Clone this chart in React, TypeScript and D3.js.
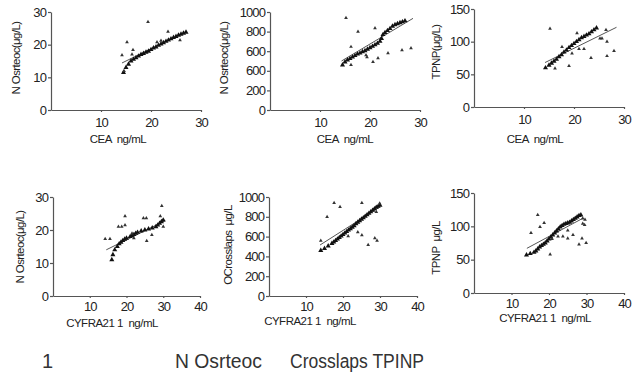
import React, { useEffect, useRef } from 'react';
import * as d3 from 'd3';

// tick values / labels
const xTicks30 = [10, 20, 30];
const xTicks40 = [10, 20, 30, 40];
const yTicks30 = [0, 10, 20, 30];
const yTicks1000 = [0, 200, 400, 600, 800, 1000];
const yTickLabels1000 = ['0', '200', '600', '600', '800', '1000'];
const yTicks150 = [0, 50, 100, 150];

// panel 1: CEA vs N Osrteoc
const ceaOstTrend = [
  [14.5, 11.5], [15, 13], [15.5, 14], [16, 15], [16.5, 15.5], [17, 16], [17.5, 16.5], [18, 17],
  [18.5, 17.3], [19, 17.7], [19.5, 18], [20, 18.5], [20.5, 19], [21, 19.3], [21.5, 19.8], [22, 20.2],
  [22.5, 20.6], [23, 21], [23.5, 21.4], [24, 21.8], [24.5, 22.2], [25, 22.5], [25.5, 22.9], [26, 23.2],
  [26.5, 23.5], [27, 23.8],
];
const ceaOstScatter = [
  [14.2, 16.8], [15.2, 20.8], [16.4, 18.4], [16.2, 17], [19.4, 27], [21.2, 20.8], [22, 21.2],
  [23.4, 24], [25.8, 21.4], [14.6, 12],
];
const ceaOstFit = [[14.2, 14.4], [26.5, 23.6]];

// panel 2: CEA vs N Osrteoc (scale 1000)
const ceaOst2Trend = [
  [14.5, 460], [15, 490], [15.5, 510], [16, 525], [16.5, 540], [17, 555], [17.5, 570], [18, 580],
  [18.5, 595], [19, 605], [19.5, 620], [20, 635], [20.5, 650], [21, 665], [21.5, 680], [22, 700],
  [22.3, 730], [22.6, 770], [23, 790], [23.5, 810], [24, 830], [24.5, 855], [25, 870], [25.5, 880],
  [26, 890], [26.5, 900], [27, 910],
];
const ceaOst2Scatter = [
  [15.2, 940], [17.6, 800], [21, 835], [16.2, 645], [16.2, 460], [19.2, 560], [19.4, 540],
  [20.6, 490], [21.6, 530], [23.6, 580], [26.4, 610], [28.2, 630],
];
const ceaOst2Fit = [[14.3, 500], [28.6, 935]];

// panel 3: CEA vs TPNP
const ceaTpTrend = [
  [14.3, 60], [15, 64], [15.5, 67], [16, 70], [16.5, 73], [17, 77], [17.5, 80], [18, 84], [18.5, 87],
  [19, 91], [19.5, 94], [20, 97], [20.5, 100], [21, 103], [21.5, 106], [22, 108], [22.5, 110],
  [23, 112], [23.5, 115], [24, 118], [24.5, 121],
];
const ceaTpScatter = [
  [15.2, 120], [20.6, 113], [17.6, 92], [22, 89], [19.6, 82], [21, 89], [16.2, 59], [19, 63],
  [23.4, 75], [26.6, 78], [28, 86], [26.6, 100], [26.4, 118], [25.6, 105], [25.2, 105],
];
const ceaTpFit = [[14.2, 68], [28.5, 122]];

// panel 4: CYFRA21 1 vs N Osrteoc
const cyOstTrend = [
  [16, 11], [16.3, 12.5], [16.8, 14], [17.5, 15], [18, 15.8], [18.5, 16.3], [19, 16.8], [19.5, 17.2],
  [20, 17.5], [21, 18], [21.5, 18.3], [22, 18.6], [22.5, 19], [23, 19.3], [24, 19.7], [25, 20],
  [26, 20.3], [27, 20.6], [28, 21], [28.5, 21.5], [29, 22], [29.5, 22.5], [30, 23],
];
const cyOstScatter = [
  [14.2, 17.3], [15.5, 17.3], [17.8, 21], [18.7, 21], [19.6, 24.2], [19.6, 21.5], [24.6, 23.6],
  [25.4, 23.6], [25.5, 16.7], [26.9, 18.5], [29.6, 27.3], [29.2, 24.2], [30, 21], [21.5, 19],
  [22, 17.5],
];
const cyOstFit = [[14.5, 14], [30.5, 22.8]];

// panel 5: CYFRA21 1 vs OCrosslaps
const cyCrossTrend = [
  [14, 460], [15, 480], [16, 505], [17, 530], [17.5, 545], [18, 560], [18.5, 575], [19, 590],
  [19.5, 605], [20, 620], [20.5, 635], [21, 650], [21.5, 665], [22, 680], [22.5, 695], [23, 710],
  [23.5, 730], [24, 745], [24.5, 760], [25, 775], [25.5, 790], [26, 805], [26.5, 820], [27, 835],
  [27.5, 850], [28, 865], [28.5, 880], [29, 895], [29.5, 905], [30, 915],
];
const cyCrossScatter = [
  [14, 560], [15.7, 800], [17.6, 940], [19.2, 900], [25.1, 940], [21.4, 605], [24, 645],
  [25.1, 615], [26.8, 515], [28.6, 585], [29.2, 560], [29, 850], [29.9, 935],
];
const cyCrossFit = [[13.8, 515], [30, 900]];

// panel 6: CYFRA21 1 vs TPNP
const cyTpTrend = [
  [14, 57], [15, 59], [16, 61], [16.5, 63], [17, 66], [17.5, 69], [18, 71], [18.5, 73], [19, 75],
  [19.5, 78], [20, 81], [20.5, 84], [21, 87], [21.5, 90], [22, 93], [22.5, 96], [23, 99],
  [23.5, 101], [24, 103], [24.5, 104], [25, 105], [25.5, 106], [26, 108], [26.5, 110], [27, 112],
  [27.5, 114], [28, 116], [28.5, 117],
];
const cyTpScatter = [
  [17, 117], [15.2, 90], [17.6, 99], [18.7, 105], [20.3, 58], [20.8, 81], [22.4, 85], [23.7, 85],
  [25, 82], [25, 94], [26.4, 87], [28, 73], [28.8, 82], [29.9, 75], [29.5, 102], [29.6, 110],
  [29, 112], [29, 104],
];
const cyTpFit = [[14.1, 67], [29, 112]];

const FONT = '"Liberation Sans", Arial, sans-serif';

const panels = [
  {
    x0: 51, x1: 201, top: 12, bottom: 110, xMax: 30, yMax: 30,
    xTicks: xTicks30, yTicks: yTicks30, yLabels: null,
    xLabel: 'CEA  ng/mL', xlx: 118, xly: 143, yLabel: 'N Osrteoc(μg/L)', ylx: 20, yly: 58,
    trend: ceaOstTrend, scatter: ceaOstScatter, fit: ceaOstFit,
  },
  {
    x0: 270, x1: 420, top: 12, bottom: 110, xMax: 30, yMax: 1000,
    xTicks: xTicks30, yTicks: yTicks1000, yLabels: yTickLabels1000,
    xLabel: 'CEA  ng/mL', xlx: 345, xly: 143, yLabel: 'N Osrteoc(μg/L)', ylx: 228, yly: 58,
    trend: ceaOst2Trend, scatter: ceaOst2Scatter, fit: ceaOst2Fit,
  },
  {
    x0: 474, x1: 624, top: 9, bottom: 107, xMax: 30, yMax: 150,
    xTicks: xTicks30, yTicks: yTicks150, yLabels: null,
    xLabel: 'CEA  ng/mL', xlx: 535, xly: 143, yLabel: 'TPNP(μg/L)', ylx: 440, yly: 52,
    trend: ceaTpTrend, scatter: ceaTpScatter, fit: ceaTpFit,
  },
  {
    x0: 53, x1: 200, top: 197, bottom: 296, xMax: 40, yMax: 30,
    xTicks: xTicks40, yTicks: yTicks30, yLabels: null,
    xLabel: 'CYFRA21 1  ng/mL', xlx: 112, xly: 327, yLabel: 'N Osrteoc(μg/L)', ylx: 24, yly: 247,
    trend: cyOstTrend, scatter: cyOstScatter, fit: cyOstFit,
  },
  {
    x0: 269, x1: 417, top: 197, bottom: 296, xMax: 40, yMax: 1000,
    xTicks: xTicks40, yTicks: yTicks1000, yLabels: null,
    xLabel: 'CYFRA21 1  ng/mL', xlx: 310, xly: 325, yLabel: 'OCrosslaps  μg/L', ylx: 232, yly: 245,
    trend: cyCrossTrend, scatter: cyCrossScatter, fit: cyCrossFit,
  },
  {
    x0: 474, x1: 624, top: 193, bottom: 293, xMax: 40, yMax: 150,
    xTicks: xTicks40, yTicks: yTicks150, yLabels: null,
    xLabel: 'CYFRA21 1  ng/mL', xlx: 545, xly: 322, yLabel: 'TPNP  μg/L', ylx: 440, yly: 248,
    trend: cyTpTrend, scatter: cyTpScatter, fit: cyTpFit,
  },
];

const App = () => {
  const svgRef = useRef<SVGSVGElement>(null);

  useEffect(() => {
    const svg = d3.select(svgRef.current);
    svg.selectAll('*').remove();

    panels.forEach(p => {
      const x = d3.scaleLinear().domain([0, p.xMax]).range([p.x0, p.x1]);
      const y = d3.scaleLinear().domain([0, p.yMax]).range([p.bottom, p.top]);
      const g = svg.append('g');

      // axes
      const yAxis = d3.axisLeft(y)
        .tickValues(p.yTicks)
        .tickSize(3)
        .tickSizeOuter(0)
        .tickPadding(2)
        .tickFormat((d, i) => (p.yLabels ? p.yLabels[i] : String(d)));
      const xAxis = d3.axisBottom(x)
        .tickValues(p.xTicks)
        .tickSize(2)
        .tickSizeOuter(0)
        .tickPadding(p.top < 100 ? 6 : 4);

      const ya = g.append('g').attr('transform', `translate(${p.x0},0)`).call(yAxis);
      const xa = g.append('g').attr('transform', `translate(0,${p.bottom})`).call(xAxis);
      [ya, xa].forEach(a => {
        a.selectAll('path, line').attr('stroke', '#555').attr('stroke-width', 1.2);
        a.selectAll('text')
          .attr('fill', '#222')
          .style('font-family', FONT)
          .style('font-size', '13px')
          .style('letter-spacing', '-0.9px');
      });

      // fitted line
      g.append('path')
        .datum(p.fit)
        .attr('d', d3.line().x(d => x(d[0])).y(d => y(d[1])))
        .attr('fill', 'none')
        .attr('stroke', '#555')
        .attr('stroke-width', 1);

      // dense trend points
      g.selectAll('.trend')
        .data(p.trend)
        .join('path')
          .attr('transform', d => `translate(${x(d[0])},${y(d[1])})`)
          .attr('d', d3.symbol(d3.symbolTriangle, 11))
          .attr('fill', '#111');

      // scattered points
      g.selectAll('.scatter')
        .data(p.scatter)
        .join('path')
          .attr('transform', d => `translate(${x(d[0])},${y(d[1])})`)
          .attr('d', d3.symbol(d3.symbolTriangle, 6))
          .attr('fill', '#333');

      // labels
      g.append('text')
        .attr('x', p.xlx)
        .attr('y', p.xly)
        .attr('text-anchor', 'middle')
        .style('font-family', FONT)
        .style('font-size', '11.5px')
        .style('letter-spacing', '-0.5px')
        .style('white-space', 'pre')
        .attr('fill', '#222')
        .text(p.xLabel);

      g.append('text')
        .attr('transform', `translate(${p.ylx},${p.yly}) rotate(-90)`)
        .attr('text-anchor', 'middle')
        .style('font-family', FONT)
        .style('font-size', '11.5px')
        .style('letter-spacing', '-0.6px')
        .style('white-space', 'pre')
        .attr('fill', '#222')
        .text(p.yLabel);
    });

    // caption
    const cap = svg.append('g')
      .style('font-family', FONT)
      .style('font-size', '20px')
      .attr('fill', '#333');
    cap.append('text').attr('x', 42).attr('y', 368).text('1');
    cap.append('text').attr('x', 175).attr('y', 368)
      .attr('textLength', 87).attr('lengthAdjust', 'spacingAndGlyphs').text('N Osrteoc');
    cap.append('text').attr('x', 290).attr('y', 368)
      .attr('textLength', 134).attr('lengthAdjust', 'spacingAndGlyphs').text('Crosslaps TPINP');
  }, []);

  return (
    <svg
      ref={svgRef}
      width={638}
      height={386}
      style={{ position: 'absolute', left: 0, top: 0, background: '#fff' }}
    />
  );
};

export default App;
